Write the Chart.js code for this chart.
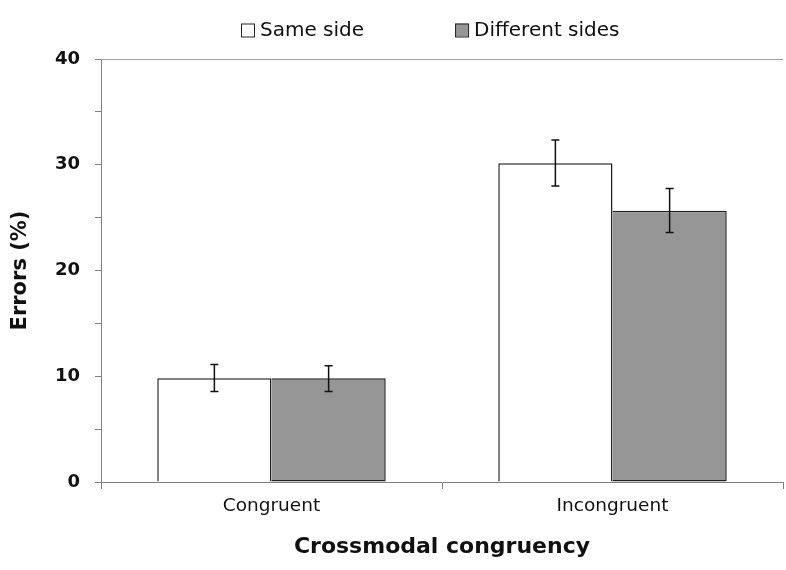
<!DOCTYPE html>
<html>
<head>
<meta charset="utf-8">
<script src="https://cdn.jsdelivr.net/npm/chart.js@4"></script>
<style>
  html, body { margin: 0; padding: 0; background: #fff; }
  #wrap { width: 786px; height: 570px; }
</style>
</head>
<body>
<div id="wrap"><canvas id="errChart" width="786" height="570"></canvas></div>
<script>
// 数据
const categories = ["Congruent", "Incongruent"];
const seriesNames = ["Same side", "Different sides"];
const sameSide = [9.8, 30.15];
const diffSides = [9.8, 25.65];
// 误差范围 (下限, 上限)
const sameSideErr = [[8.55, 11.1], [28.0, 32.35]];
const diffSidesErr = [[8.55, 11.0], [23.6, 27.75]];
const yTicks = [0, 10, 20, 30, 40];

const FONT = "'DejaVu Sans', sans-serif";
const fills = ["#ffffff", "#969696"];

// 误差线插件
const errorBarPlugin = {
  id: "errorBars",
  afterDatasetsDraw(chart) {
    const ctx = chart.ctx;
    const yScale = chart.scales.y;
    const errs = [sameSideErr, diffSidesErr];
    ctx.save();
    ctx.strokeStyle = "#111";
    ctx.lineWidth = 1.5;
    chart.data.datasets.forEach(function (ds, i) {
      const meta = chart.getDatasetMeta(i);
      meta.data.forEach(function (bar, j) {
        const lo = yScale.getPixelForValue(errs[i][j][0]);
        const hi = yScale.getPixelForValue(errs[i][j][1]);
        const x = bar.x;
        ctx.beginPath();
        ctx.moveTo(x, lo); ctx.lineTo(x, hi);
        ctx.moveTo(x - 4, lo); ctx.lineTo(x + 4, lo);
        ctx.moveTo(x - 4, hi); ctx.lineTo(x + 4, hi);
        ctx.stroke();
      });
    });
    ctx.restore();
  }
};

// 顶部边框线
const topLinePlugin = {
  id: "topLine",
  beforeDatasetsDraw(chart) {
    const a = chart.chartArea;
    const ctx = chart.ctx;
    ctx.save();
    ctx.strokeStyle = "#a0a0a0";
    ctx.lineWidth = 1;
    ctx.beginPath();
    ctx.moveTo(a.left, Math.round(a.top) + 0.5);
    ctx.lineTo(a.right, Math.round(a.top) + 0.5);
    ctx.stroke();
    ctx.restore();
  }
};

// 图例（项目间距较大，自己画）
const legendPlugin = {
  id: "wideLegend",
  afterDraw(chart) {
    const ctx = chart.ctx;
    const a = chart.chartArea;
    const box = 13;
    const gapText = 6;
    const gapItem = 91;
    const y = 30;
    let x = (a.left + a.right) / 2 - 201;
    ctx.save();
    ctx.font = "20px " + FONT;
    ctx.textBaseline = "middle";
    chart.data.datasets.forEach(function (ds, i) {
      ctx.fillStyle = fills[i];
      ctx.fillRect(x, y - box / 2, box, box);
      ctx.strokeStyle = "#222";
      ctx.lineWidth = 1;
      ctx.strokeRect(x + 0.5, y - box / 2 + 0.5, box, box);
      ctx.fillStyle = "#111";
      ctx.fillText(ds.label, x + box + gapText, y + 1);
      x += box + gapText + ctx.measureText(ds.label).width + gapItem;
    });
    ctx.restore();
  }
};

new Chart(document.getElementById("errChart"), {
  type: "bar",
  data: {
    labels: categories,
    datasets: [
      {
        label: seriesNames[0],
        data: sameSide,
        backgroundColor: fills[0],
        borderColor: "#222",
        borderWidth: 1.5,
        categoryPercentage: 0.67,
        barPercentage: 1.0
      },
      {
        label: seriesNames[1],
        data: diffSides,
        backgroundColor: fills[1],
        borderColor: "#222",
        borderWidth: 1.5,
        borderSkipped: "left",
        categoryPercentage: 0.67,
        barPercentage: 1.0
      }
    ]
  },
  options: {
    responsive: false,
    animation: false,
    layout: { padding: { left: 0, right: 3, top: 59, bottom: 0 } },
    plugins: {
      legend: { display: false },
      tooltip: { enabled: false }
    },
    scales: {
      x: {
        afterFit(scale) {
          scale.height = 88;
        },
        grid: {
          offset: true,
          drawOnChartArea: false,
          tickLength: 7,
          color: "#808080"
        },
        border: { color: "#808080", width: 1 },
        ticks: {
          color: "#111",
          font: { family: FONT, size: 18.5 },
          padding: 6
        },
        title: {
          display: true,
          text: "Crossmodal congruency",
          color: "#111",
          font: { family: FONT, size: 22, weight: "bold" },
          padding: { top: 0, bottom: 10 }
        }
      },
      y: {
        min: 0,
        max: 40,
        afterBuildTicks(scale) {
          const t = [];
          for (let v = 0; v <= 40; v += 5) t.push({ value: v });
          scale.ticks = t;
        },
        afterFit(scale) {
          scale.width = 101;
        },
        grid: {
          drawOnChartArea: false,
          tickLength: 6,
          color: "#808080"
        },
        border: { color: "#808080", width: 1 },
        ticks: {
          color: "#111",
          font: { family: FONT, size: 18, weight: "bold" },
          padding: 15,
          callback: function (v) {
            return yTicks.includes(v) ? String(v) : "";
          }
        },
        title: {
          display: true,
          text: "Errors (%)",
          color: "#111",
          font: { family: FONT, size: 21, weight: "bold" },
          padding: { top: 8, bottom: 0 }
        }
      }
    }
  },
  plugins: [errorBarPlugin, topLinePlugin, legendPlugin]
});
</script>
</body>
</html>
